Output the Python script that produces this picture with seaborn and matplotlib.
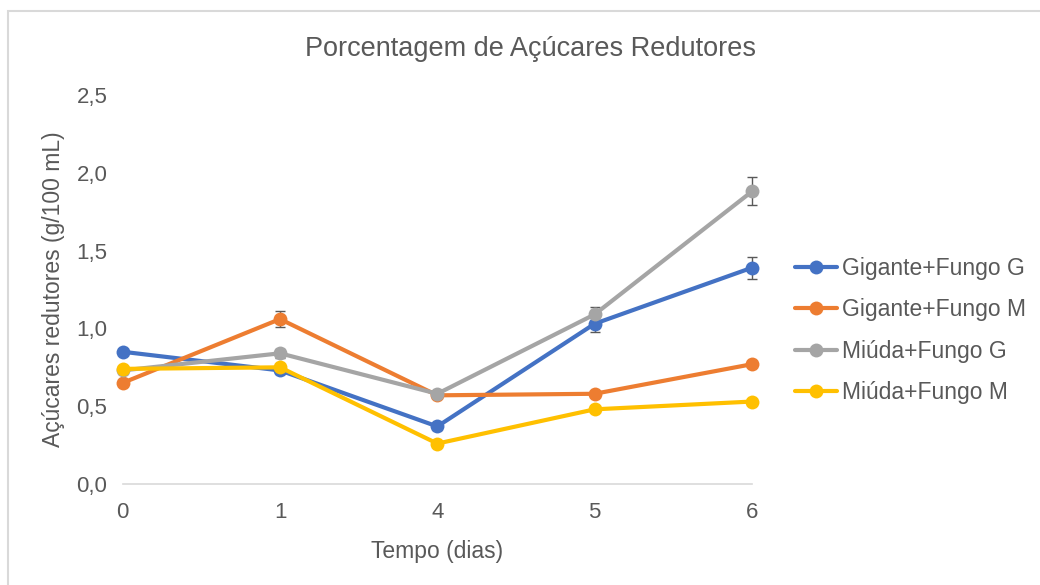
import matplotlib
matplotlib.use("Agg")
import matplotlib.pyplot as plt
import seaborn as sns
import pandas as pd
import numpy as np
from matplotlib.patches import Rectangle

# dados
dias = ['0', '1', '4', '5', '6']
series = ['Gigante+Fungo G', 'Gigante+Fungo M', 'Miúda+Fungo G', 'Miúda+Fungo M']
gig_g = [0.85, 0.73, 0.37, 1.03, 1.39]
gig_m = [0.65, 1.06, 0.57, 0.58, 0.77]
miu_g = [0.73, 0.84, 0.58, 1.09, 1.88]
miu_m = [0.74, 0.75, 0.26, 0.48, 0.53]
err_gig_g = [0.02, 0.02, 0.02, 0.05, 0.07]
err_gig_m = [0.02, 0.05, 0.01, 0.02, 0.02]
err_miu_g = [0.02, 0.03, 0.02, 0.05, 0.09]
err_miu_m = [0.01, 0.01, 0.01, 0.01, 0.01]

valores = [gig_g, gig_m, miu_g, miu_m]
erros = [err_gig_g, err_gig_m, err_miu_g, err_miu_m]
cores = ['#4472C4', '#ED7D31', '#A5A5A5', '#FFC000']

pos = np.arange(len(dias))
df = pd.DataFrame({
    'pos': np.tile(pos, len(series)),
    'valor': np.concatenate(valores),
    'serie': np.repeat(series, len(dias)),
})

sns.set_theme(style="white")
plt.rcParams['font.family'] = ['Liberation Sans', 'DejaVu Sans']
texto = '#595959'

fig = plt.figure(figsize=(10.4, 5.85), dpi=100)
ax = fig.add_axes([0.118, 0.1726, 0.605, 0.665])

# barras de erro primeiro, linhas por cima
for v, e in zip(valores, erros):
    ax.errorbar(pos, v, yerr=e, fmt='none', ecolor='#595959',
                elinewidth=1, capsize=3.5, capthick=1, zorder=2, clip_on=False)

sns.lineplot(data=df, x='pos', y='valor', hue='serie', palette=cores,
             marker='o', markersize=10, markeredgewidth=0, linewidth=3,
             sort=False, ax=ax, zorder=3, clip_on=False)

ax.set_xlim(0, 4)
ax.set_ylim(0, 2.5)
ax.set_xticks(pos)
ax.set_xticklabels(dias)
ax.set_yticks(np.arange(0, 2.51, 0.5))
ax.set_yticklabels([f'{t:.1f}'.replace('.', ',') for t in np.arange(0, 2.51, 0.5)])
ax.tick_params(axis='both', length=0, labelsize=16, colors=texto, pad=13)
ax.tick_params(axis='y', pad=11)

for s in ['top', 'right', 'left']:
    ax.spines[s].set_visible(False)
ax.spines['bottom'].set_color('#d9d9d9')
ax.spines['bottom'].set_linewidth(1.2)
ax.spines['bottom'].set_zorder(1)

ax.set_xlabel('Tempo (dias)', fontsize=16.5, color=texto, labelpad=12)
ax.set_ylabel('Açúcares redutores (g/100 mL)', fontsize=16.5, color=texto, labelpad=8)
fig.text(0.51, 0.916, 'Porcentagem de Açúcares Redutores', ha='center', va='center',
         fontsize=19.5, color=texto)

leg = ax.legend(loc='center left', bbox_to_anchor=(1.035, 0.395), frameon=False,
                fontsize=16.5, labelcolor=texto, handlelength=1.85, handletextpad=0.2,
                labelspacing=0.8)
for h in leg.get_lines():
    h.set_linewidth(3)
    h.set_markersize(10)

# moldura do gráfico (sem borda direita visível)
fig.patches.append(Rectangle((0.008, -0.05), 1.1, 1.031, transform=fig.transFigure,
                             fill=False, edgecolor='#d9d9d9', linewidth=1.5))

fig.savefig('out.png', dpi=100)
